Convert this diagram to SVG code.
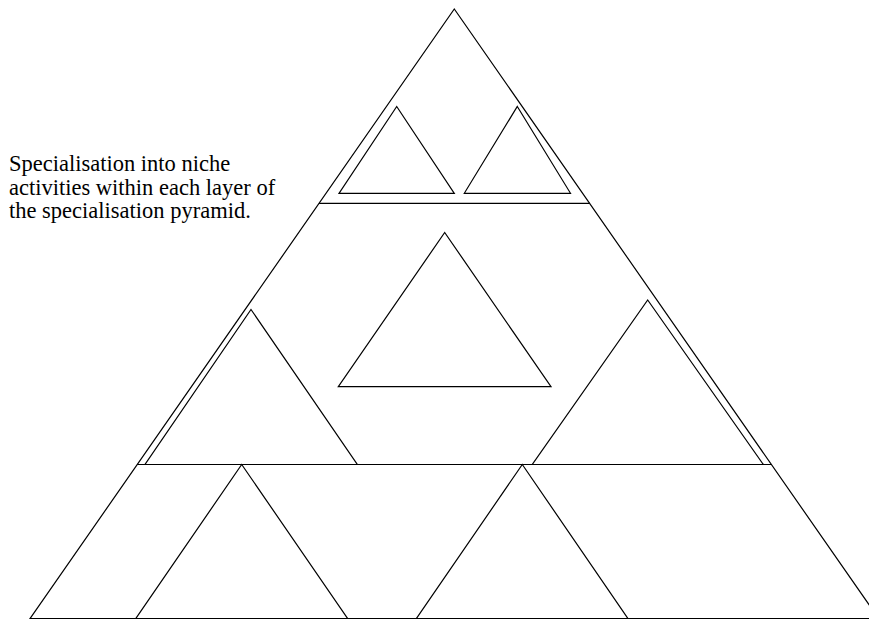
<svg xmlns="http://www.w3.org/2000/svg" width="869" height="619" viewBox="0 0 869 619">
<style>
.s{fill:none;stroke:#000;stroke-width:1.2;stroke-linejoin:miter}
.t{font-family:"Liberation Serif","Times New Roman",serif;font-size:22.5px;fill:#000}
</style>
<rect width="869" height="619" fill="#fff"/>
<g id="pyramid"><polygon class="s" points="454.3,9 878.7,618.6 30,618.6"/></g>
<g id="layers">
<line class="s" x1="319" y1="203.3" x2="589.6" y2="203.3"/>
<line class="s" x1="137" y1="464.5" x2="771.6" y2="464.5"/>
</g>
<g id="top-left"><polygon class="s" points="396.7,106.5 454.3,193.3 339,193.3"/></g>
<g id="top-right"><polygon class="s" points="517.3,106.5 570.5,193.3 464.3,193.3"/></g>
<g id="mid-center"><polygon class="s" points="444.7,232.5 551,386.7 338.3,386.7"/></g>
<g id="mid-left"><polygon class="s" points="251,309.5 357.3,464.5 145,464.5"/></g>
<g id="mid-right"><polygon class="s" points="647.7,300 763.3,464.5 532.3,464.5"/></g>
<g id="bottom-left"><polygon class="s" points="241.7,464.5 347.7,618.6 135.7,618.6"/></g>
<g id="bottom-right"><polygon class="s" points="522.3,464.5 628,618.6 416.3,618.6"/></g>
<g id="caption">
<text class="t" x="9" y="171">Specialisation into niche</text>
<text class="t" x="9" y="194.5">activities within each layer of</text>
<text class="t" x="9" y="218">the specialisation pyramid.</text>
</g>
</svg>
